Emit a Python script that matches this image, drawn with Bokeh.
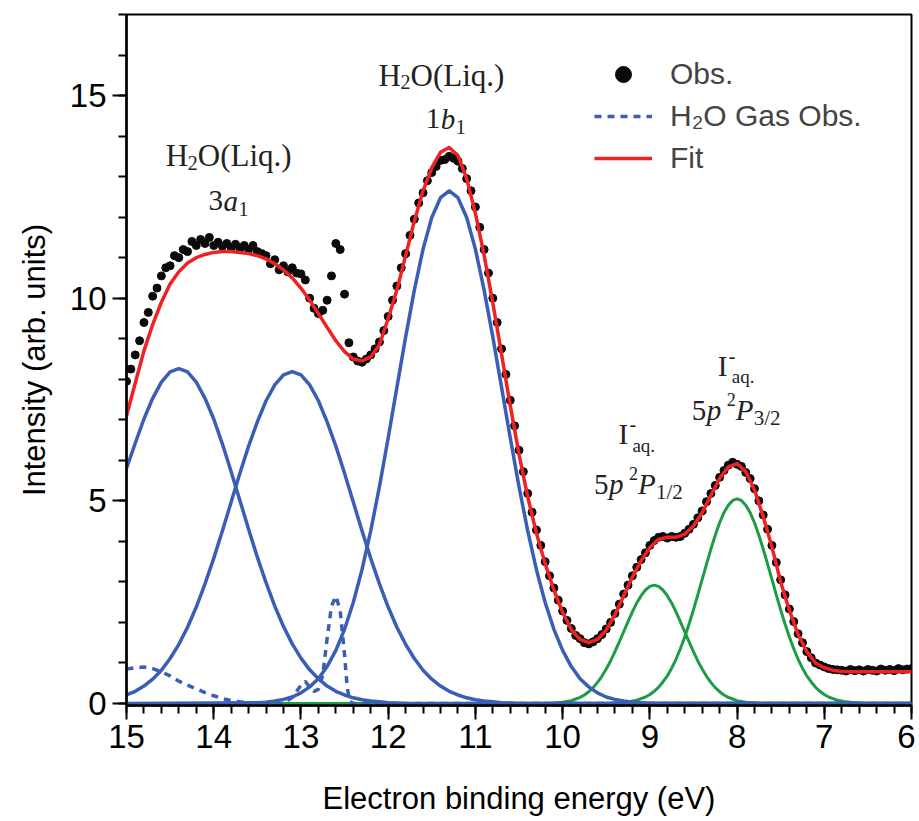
import numpy as np
from bokeh.plotting import figure
from bokeh.models import Range1d, SingleIntervalTicker, Label, Legend, LegendItem
from bokeh.embed import file_html
from bokeh.resources import INLINE

# ---------------- data ----------------
E_HIGH, E_LOW = 15.0, 6.0

# observed spectrum, 15.00 eV -> 6.00 eV in 0.05 eV steps (one row per eV)
obs_start, obs_step = 15.0, 0.05
obs_intensity = [
    7.95, 8.25, 8.60, 8.95, 9.40, 9.65, 10.05, 10.25, 10.55, 10.75, 10.80, 11.05, 11.00, 11.20, 11.15, 11.40, 11.30, 11.45, 11.35, 11.50,
    11.30, 11.38, 11.28, 11.35, 11.25, 11.33, 11.22, 11.30, 11.20, 11.30, 11.15, 11.10, 11.05, 10.85, 10.95, 10.70, 10.80, 10.65, 10.75, 10.62,
    10.60, 10.45, 10.00, 9.75, 9.62, 9.70, 9.95, 10.55, 11.35, 11.20, 10.10, 8.90, 8.55, 8.45, 8.42, 8.50, 8.60, 8.75, 8.92, 9.20,
    9.55, 9.95, 10.30, 10.75, 11.10, 11.55, 11.95, 12.35, 12.60, 12.90, 13.10, 13.25, 13.40, 13.42, 13.50, 13.45, 13.38, 13.20, 12.95, 12.65,
    12.25, 11.75, 11.20, 10.62, 10.00, 9.40, 8.75, 8.12, 7.48, 6.85, 6.25, 5.72, 5.18, 4.72, 4.28, 3.90, 3.50, 3.15, 2.85, 2.55,
    2.28, 2.05, 1.85, 1.68, 1.60, 1.50, 1.47, 1.52, 1.60, 1.70, 1.84, 2.00, 2.22, 2.45, 2.70, 2.92, 3.15, 3.36, 3.55, 3.72,
    3.90, 4.02, 4.10, 4.12, 4.08, 4.12, 4.10, 4.12, 4.20, 4.30, 4.42, 4.58, 4.75, 4.98, 5.18, 5.38, 5.58, 5.75, 5.88, 5.95,
    5.90, 5.85, 5.70, 5.55, 5.30, 5.00, 4.65, 4.30, 3.90, 3.48, 3.05, 2.68, 2.33, 2.02, 1.72, 1.50, 1.28, 1.13, 1.00, 0.95,
    0.90, 0.86, 0.84, 0.83, 0.82, 0.80, 0.84, 0.81, 0.83, 0.80, 0.84, 0.82, 0.80, 0.85, 0.82, 0.84, 0.81, 0.86, 0.83, 0.85,
    0.86,
]

# total fit, 15.0 -> 6.0 eV in 0.1 eV steps
fit_start, fit_step = 15.0, 0.1
fit_intensity = [
    7.10, 7.90, 8.70, 9.35, 9.90, 10.35, 10.65, 10.87, 11.00, 11.08,
    11.13, 11.15, 11.15, 11.13, 11.10, 11.05, 10.97, 10.85, 10.70, 10.50,
    10.25, 9.95, 9.62, 9.28, 8.95, 8.68, 8.50, 8.45, 8.55, 8.85,
    9.50, 10.20, 11.05, 11.90, 12.65, 13.22, 13.60, 13.72, 13.52, 12.95,
    12.10, 11.06, 9.88, 8.62, 7.35, 6.15, 5.10, 4.20, 3.45, 2.80,
    2.25, 1.82, 1.58, 1.50, 1.58, 1.81, 2.19, 2.66, 3.12, 3.52,
    3.85, 4.05, 4.10, 4.10, 4.18, 4.38, 4.71, 5.13, 5.55, 5.84,
    5.92, 5.72, 5.27, 4.61, 3.86, 3.00, 2.30, 1.70, 1.28, 1.00,
    0.88, 0.82, 0.79, 0.78, 0.78, 0.78, 0.78, 0.78, 0.78, 0.78,
    0.78,
]

# liquid water 3a1 component (higher energy), from 15.0 eV, 0.1 eV steps
liq_3a1_hi_start = 15.0
liq_3a1_hi = [5.80, 6.42, 7.02, 7.53, 7.93, 8.18, 8.26, 8.18, 7.93, 7.53, 7.02, 6.40, 5.72, 5.01,
              4.30, 3.61, 2.98, 2.40, 1.90, 1.47, 1.12, 0.83, 0.61, 0.43, 0.30, 0.21, 0.14, 0.09,
              0.06, 0.04, 0.02, 0.01, 0.0]
# liquid water 3a1 component (lower energy), from 15.0 eV
liq_3a1_lo_start = 15.0
liq_3a1_lo = [0.21, 0.30, 0.43, 0.60, 0.82, 1.11, 1.46, 1.88, 2.38, 2.95, 3.58, 4.26, 4.97, 5.68,
              6.35, 6.95, 7.47, 7.86, 8.11, 8.19, 8.11, 7.86, 7.47, 6.95, 6.35, 5.68, 4.97, 4.26,
              3.58, 2.95, 2.38, 1.88, 1.46, 1.11, 0.82, 0.60, 0.43, 0.30, 0.21, 0.14, 0.09, 0.06,
              0.04, 0.02, 0.01, 0.0]
# liquid water 1b1 component, from 13.5 eV
liq_1b1_start = 13.5
liq_1b1 = [0.02, 0.03, 0.06, 0.10, 0.16, 0.26, 0.41, 0.61, 0.91, 1.31, 1.83, 2.49, 3.30, 4.26,
           5.35, 6.55, 7.80, 9.04, 10.20, 11.21, 11.99, 12.48, 12.65, 12.48, 11.99, 11.21, 10.20,
           9.04, 7.80, 6.55, 5.35, 4.26, 3.30, 2.49, 1.83, 1.31, 0.91, 0.61, 0.41, 0.26, 0.16,
           0.10, 0.06, 0.03, 0.02, 0.0]
# iodide 5p 2P1/2, from 10.15 eV, 0.05 eV steps
iod_p12_start = 10.15
iod_p12 = [0.0, 0.01, 0.02, 0.03, 0.05, 0.07, 0.11, 0.15, 0.21, 0.29, 0.39, 0.52, 0.67, 0.85,
           1.05, 1.28, 1.52, 1.77, 2.02, 2.26, 2.48, 2.66, 2.80, 2.89, 2.92, 2.89, 2.80, 2.66,
           2.48, 2.26, 2.02, 1.77, 1.52, 1.28, 1.05, 0.85, 0.67, 0.52, 0.39, 0.29, 0.21, 0.15,
           0.11, 0.07, 0.05, 0.03, 0.02, 0.01, 0.0]
# iodide 5p 2P3/2, from 9.45 eV, 0.05 eV steps
iod_p32_start = 9.45
iod_p32 = [0.0, 0.01, 0.02, 0.03, 0.04, 0.06, 0.08, 0.12, 0.16, 0.22, 0.30, 0.40, 0.53, 0.68,
           0.87, 1.09, 1.35, 1.64, 1.96, 2.31, 2.68, 3.06, 3.44, 3.81, 4.15, 4.46, 4.71, 4.89,
           5.01, 5.05, 5.01, 4.89, 4.71, 4.46, 4.15, 3.81, 3.44, 3.06, 2.68, 2.31, 1.96, 1.64,
           1.35, 1.09, 0.87, 0.68, 0.53, 0.40, 0.30, 0.22, 0.16, 0.12, 0.08, 0.06, 0.04, 0.03,
           0.02, 0.01, 0.0]
# gas-phase water signal
gas_energy = [15.0, 14.9, 14.8, 14.7, 14.6, 14.5, 14.4, 14.3, 14.2, 14.1, 14.0, 13.9, 13.8, 13.7,
              13.6, 13.5, 13.2, 13.1, 13.0, 12.95, 12.9, 12.85, 12.8, 12.75, 12.7, 12.65, 12.6,
              12.55, 12.5, 12.47, 12.44, 12.4, 6.0]
gas_intensity = [0.85, 0.88, 0.90, 0.86, 0.78, 0.68, 0.55, 0.45, 0.36, 0.27, 0.19, 0.12, 0.07,
                 0.04, 0.02, 0.0, 0.0, 0.15, 0.45, 0.55, 0.40, 0.30, 0.35, 0.70, 1.60, 2.40, 2.65,
                 2.30, 1.20, 0.40, 0.05, 0.0, 0.0]

x_ticks_interval = 1
y_ticks_interval = 5

BLUE = "#3A5DB5"
RED = "#EE2222"
GREEN = "#1E9B45"
DOT = "#0A0A0A"


def series(start, step, vals, head=False, tail=False):
    e = [round(start - step * i, 3) for i in range(len(vals))]
    v = list(vals)
    if head:
        e = [E_HIGH] + e
        v = [0.0] + v
    if tail:
        e = e + [E_LOW]
        v = v + [0.0]
    return e, v


p = figure(frame_width=785, frame_height=691,
           x_range=Range1d(E_HIGH, E_LOW), y_range=Range1d(-0.05, 17),
           output_backend="svg", toolbar_location=None,
           min_border_left=126, min_border_right=4, min_border_top=14, min_border_bottom=110)
p.background_fill_color = "white"
p.border_fill_color = "white"
p.outline_line_color = "black"
p.outline_line_width = 2
p.xgrid.visible = False
p.ygrid.visible = False

for ax in (p.xaxis[0], p.yaxis[0]):
    ax.axis_line_width = 2.5
    ax.axis_line_color = "black"
    ax.major_tick_line_width = 2
    ax.minor_tick_line_width = 2
    ax.major_tick_out = 14
    ax.major_tick_in = 0
    ax.minor_tick_out = 8
    ax.minor_tick_in = 0
    ax.major_label_text_font = "Liberation Sans"
    ax.major_label_text_font_size = "33px"
    ax.major_label_text_color = "black"
    ax.axis_label_text_font = "Liberation Sans"
    ax.axis_label_text_font_size = "31px"
    ax.axis_label_text_font_style = "normal"
    ax.axis_label_text_color = "black"

p.xaxis.ticker = SingleIntervalTicker(interval=x_ticks_interval, num_minor_ticks=5)
p.yaxis.ticker = SingleIntervalTicker(interval=y_ticks_interval, num_minor_ticks=5)
p.xaxis.axis_label = "Electron binding energy (eV)"
p.yaxis.axis_label = "Intensity (arb. units)"
p.xaxis.major_label_standoff = 5
p.yaxis.major_label_standoff = 6
p.xaxis.axis_label_standoff = 30
p.yaxis.axis_label_standoff = 15

# components
for start, step, vals, head in [(iod_p12_start, 0.05, iod_p12, True),
                                (iod_p32_start, 0.05, iod_p32, True)]:
    e, v = series(start, step, vals, head=head, tail=True)
    p.line(e, v, line_color=GREEN, line_width=3, line_join="round")

for start, step, vals, head in [(liq_3a1_hi_start, 0.1, liq_3a1_hi, False),
                                (liq_3a1_lo_start, 0.1, liq_3a1_lo, False),
                                (liq_1b1_start, 0.1, liq_1b1, True)]:
    e, v = series(start, step, vals, head=head, tail=True)
    p.line(e, v, line_color=BLUE, line_width=3.5, line_join="round")

gas_r = p.line(gas_energy, gas_intensity, line_color=BLUE, line_width=3.5, line_dash="7 6")

oe, ov = series(obs_start, obs_step, obs_intensity)
p.scatter(oe, ov, size=8, color=DOT, marker="circle")

fe, fv = series(fit_start, fit_step, fit_intensity)
fit_r = p.line(fe, fv, line_color=RED, line_width=3.5, line_join="round")

# legend-only marker (not drawn in the data area)
obs_legend_r = p.scatter(x=[np.nan], y=[np.nan], size=20, color=DOT, marker="circle")

legend = Legend(items=[LegendItem(label="Obs.", renderers=[obs_legend_r]),
                       LegendItem(label="H\u2082O Gas Obs.", renderers=[gas_r]),
                       LegendItem(label="Fit", renderers=[fit_r])],
                location=(468, 527))
legend.border_line_color = None
legend.background_fill_alpha = 0
legend.label_text_font = "Liberation Sans"
legend.label_text_font_size = "30px"
legend.glyph_width = 58
legend.glyph_height = 40
legend.label_height = 40
legend.label_standoff = 18
legend.spacing = 2
legend.padding = 4
legend.margin = 0
p.add_layout(legend)

# peak annotations (serif, with sub/superscripts)
SERIF = "Liberation Serif"


def rich(E, V, pieces):
    for text, dx, dy, size, style in pieces:
        p.add_layout(Label(x=E, y=V, x_units="data", y_units="data", text=text,
                           x_offset=dx, y_offset=-dy, text_font=SERIF,
                           text_font_size=f"{size}px", text_font_style=style,
                           text_color="#222222", text_baseline="alphabetic", text_align="left"))


h2o = [("H", 0, 0, 31, "normal"), ("2", 22, 7, 20, "normal"), ("O(Liq.)", 32, 0, 31, "normal")]
rich(14.55, 13.52, h2o)
rich(14.06, 12.41, [("3", 0, 0, 29, "normal"), ("a", 15, 0, 29, "italic"), ("1", 30, 8, 20, "normal")])
rich(12.11, 15.50, h2o)
rich(11.57, 14.43, [("1", 0, 0, 29, "normal"), ("b", 15, 0, 29, "italic"), ("1", 30, 8, 20, "normal")])

iaq = [("I", 0, 0, 29, "normal"), ("-", 11, -10, 20, "normal"), ("aq.", 14, 11, 19, "normal")]
rich(9.36, 6.64, iaq)
rich(9.64, 5.41, [("5", 0, 0, 29, "normal"), ("p", 15, 0, 29, "italic"), ("2", 35, -11, 18, "normal"),
                  ("P", 44, 0, 29, "italic"), ("1/2", 62, 8, 21, "normal")])
rich(8.22, 8.33, iaq)
rich(8.52, 7.23, [("5", 0, 0, 29, "normal"), ("p", 15, 0, 29, "italic"), ("2", 35, -11, 18, "normal"),
                  ("P", 44, 0, 29, "italic"), ("3/2", 62, 8, 21, "normal")])

open("out.html", "w").write(file_html(p, INLINE))
